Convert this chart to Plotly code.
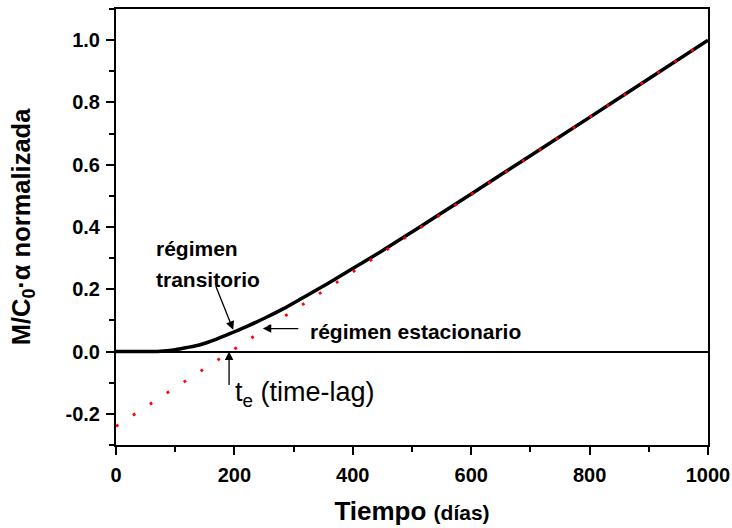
import plotly.graph_objects as go

# Data
tiempo = [0, 40, 60, 80, 100, 120, 142, 170, 198, 225, 255, 283, 311, 340,
          367, 395, 450, 500, 600, 700, 800, 900, 1000]
m_norm = [0.0, 0.0, 0.0, 0.002, 0.006, 0.013, 0.022, 0.04, 0.062, 0.084,
          0.111, 0.138, 0.168, 0.199, 0.229, 0.261, 0.324, 0.384, 0.506,
          0.629, 0.752, 0.876, 1.0]

tiempo_estacionario = [0, 1000]
m_estacionario = [-0.24, 1.0]

x_ticks = [0, 200, 400, 600, 800, 1000]
y_ticks = [-0.2, 0.0, 0.2, 0.4, 0.6, 0.8, 1.0]

FONT = "Liberation Sans, Arial, sans-serif"

fig = go.Figure()
fig.add_trace(go.Scatter(
    x=tiempo, y=m_norm, mode="lines",
    line=dict(color="black", width=3.5, shape="spline", smoothing=0.8),
    showlegend=False, hoverinfo="skip"))
fig.add_trace(go.Scatter(
    x=tiempo_estacionario, y=m_estacionario, mode="lines",
    line=dict(color="#ff0000", width=2.8, dash="2.8px,17.4px"),
    showlegend=False, hoverinfo="skip"))

axis_common = dict(
    showline=True, linecolor="black", linewidth=2, mirror=True,
    ticks="outside", ticklen=8, tickwidth=2, tickcolor="black",
    showgrid=False, automargin=False,
    tickfont=dict(family=FONT, size=20, color="black", weight="bold"),
)

fig.update_layout(
    width=732, height=528,
    margin=dict(l=116, r=24, t=9, b=83),
    paper_bgcolor="white", plot_bgcolor="white",
    font=dict(family=FONT, color="black"),
    xaxis=dict(
        range=[0, 1000], tickvals=x_ticks,
        ticktext=[str(v) for v in x_ticks],
        zeroline=False,
        minor=dict(ticks="outside", ticklen=5, tickwidth=2, tickcolor="black", dtick=100),
        title=dict(text="<b>Tiempo</b> <b><span style='font-size:21px'>(días)</span></b>",
                   font=dict(family=FONT, size=26, color="black"), standoff=17),
        ticklabelstandoff=3,
        **axis_common),
    yaxis=dict(
        range=[-0.3, 1.1], tickvals=y_ticks,
        ticktext=[f"{v:.1f}" for v in y_ticks],
        zeroline=True, zerolinecolor="black", zerolinewidth=2,
        minor=dict(ticks="outside", ticklen=5, tickwidth=2, tickcolor="black", dtick=0.1, tick0=0),
        title=dict(text="<b>M/C<sub>0</sub>·α normalizada</b>",
                   font=dict(family=FONT, size=25.5, color="black"), standoff=28),
        ticklabelstandoff=2,
        **axis_common),
)

ann_font = dict(family=FONT, size=21, color="black")
# text labels
fig.add_annotation(xref="x", yref="y", x=64, y=0.33, xanchor="left", yanchor="middle",
                   text="<b>régimen</b>", showarrow=False, font=ann_font)
fig.add_annotation(xref="x", yref="y", x=64, y=0.23, xanchor="left", yanchor="middle",
                   text="<b>transitorio</b>", showarrow=False, font=ann_font)
fig.add_annotation(xref="x", yref="y", x=325, y=0.066, xanchor="left", yanchor="middle",
                   text="<b>régimen estacionario</b>", showarrow=False, font=ann_font)
fig.add_annotation(xref="x", yref="y", x=198, y=-0.135, xanchor="left", yanchor="middle",
                   text="t<sub>e</sub> (time-lag)", showarrow=False,
                   font=dict(family=FONT, size=27, color="black"))
# arrows
arrow_style = dict(showarrow=True, arrowhead=2, arrowsize=1.3, arrowwidth=1.3,
                   arrowcolor="black", text="", xref="x", yref="y")
fig.add_annotation(x=198, y=0.07, ax=-18, ay=-45, **arrow_style)
fig.add_annotation(x=248, y=0.074, ax=37, ay=0, **arrow_style)
fig.add_annotation(x=191, y=0.0, ax=0, ay=35, **arrow_style)

fig.write_html("out.html", config={"displayModeBar": False},
               post_script="document.body.style.margin='0';document.body.style.overflow='hidden';")
